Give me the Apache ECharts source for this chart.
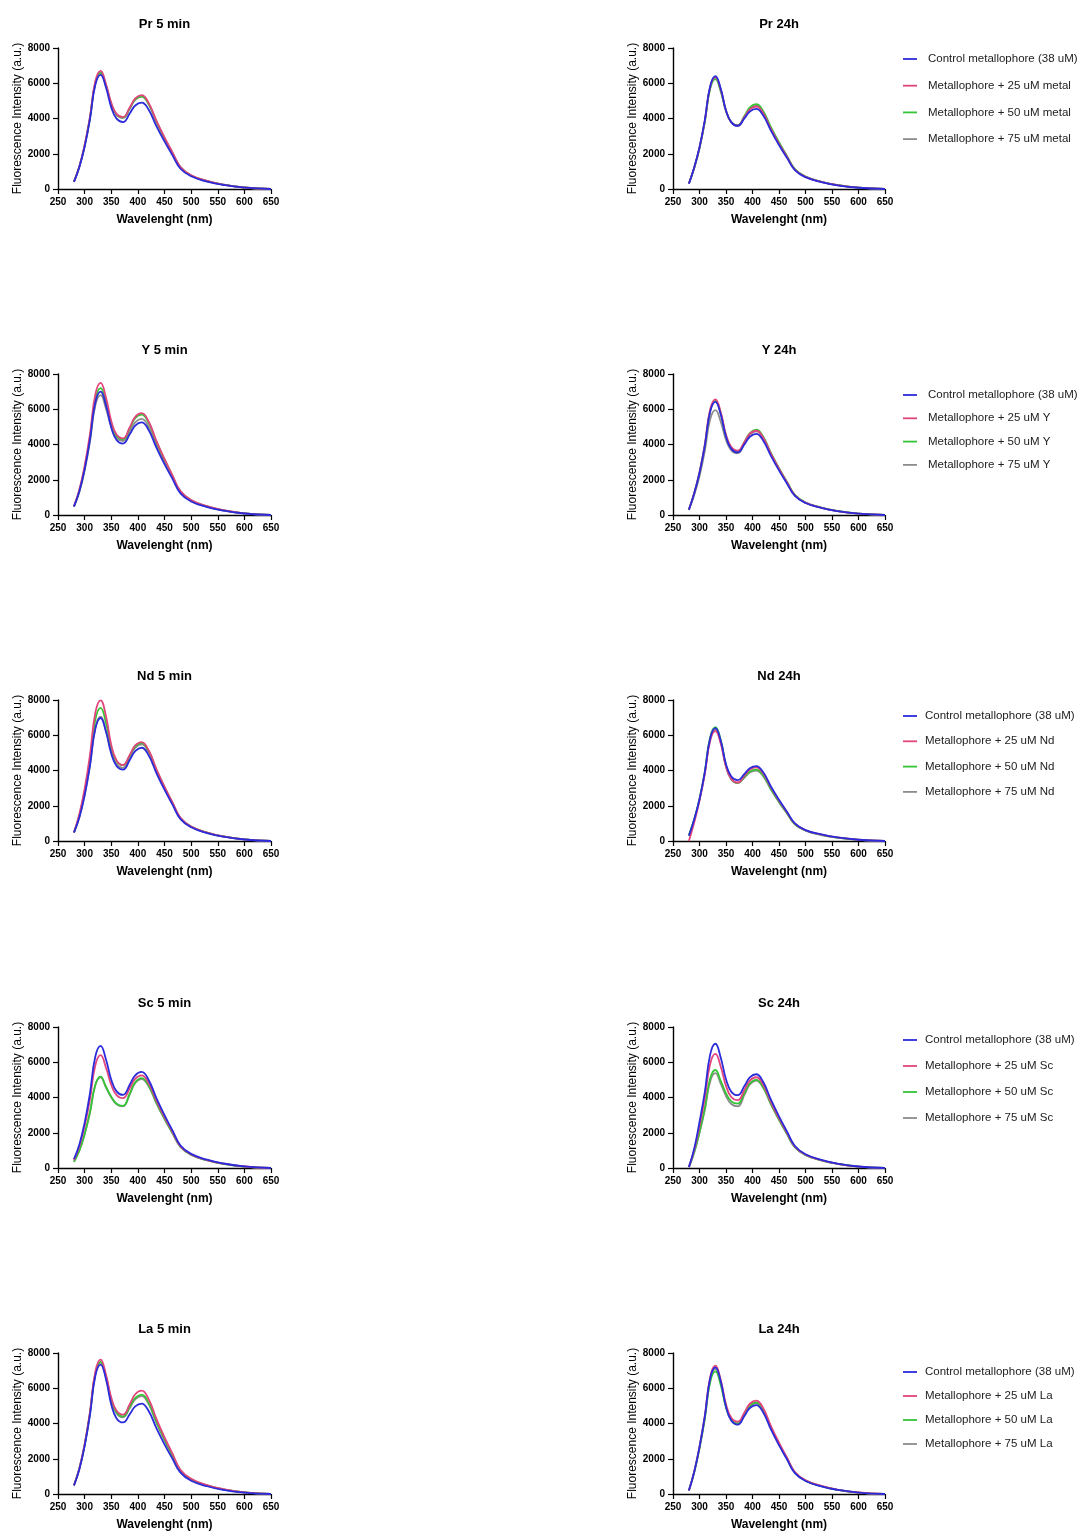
<!DOCTYPE html>
<html>
<head>
<meta charset="utf-8">
<script src="https://cdn.jsdelivr.net/npm/echarts@6/dist/echarts.min.js"></script>
<style>
  html, body { margin: 0; padding: 0; background: #ffffff; }
  #chart { width: 1080px; height: 1533px; }
</style>
</head>
<body>
<div id="chart"></div>
<script>
// Emission wavelengths (nm) shared by every spectrum
const wavelength = [280, 290, 300, 310, 320, 330, 340, 350, 360, 372, 385, 395, 407, 420, 435, 450, 465, 480, 500, 530, 560, 600, 650];

// Pr
const pr5_control = [400,1230,2400,3950,5900,6480,5770,4630,3990,3800,4300,4740,4900,4510,3550,2700,1910,1150,720,420,230,80,0];
const pr5_25 = [420,1270,2480,4090,6100,6700,5960,4890,4260,4080,4640,5140,5330,4900,3860,2930,2080,1250,780,460,250,85,0];
const pr5_50 = [410,1260,2450,4040,6020,6620,5890,4850,4230,4050,4600,5080,5260,4840,3810,2890,2050,1240,770,450,250,84,0];
const pr5_75 = [400,1250,2430,4010,5990,6580,5860,4820,4210,4030,4570,5060,5240,4820,3800,2880,2040,1230,770,450,250,84,0];
const pr24_control = [300,1220,2370,3900,5820,6400,5700,4450,3780,3580,4020,4400,4550,4190,3300,2500,1770,1070,670,390,210,70,0];
const pr24_25 = [320,1210,2350,3870,5780,6350,5650,4450,3790,3600,4090,4520,4680,4310,3390,2570,1830,1100,690,400,220,75,0];
const pr24_50 = [320,1180,2310,3800,5670,6230,5540,4430,3800,3620,4160,4630,4810,4430,3490,2650,1880,1130,710,410,230,77,0];
const pr24_75 = [310,1200,2330,3840,5730,6300,5610,4440,3790,3600,4110,4560,4730,4350,3430,2600,1840,1110,700,410,220,76,0];

// Y
const y5_control = [480,1330,2590,4270,6370,7000,6230,4960,4260,4050,4590,5070,5250,4830,3810,2890,2050,1230,770,450,250,84,0];
const y5_25 = [500,1430,2780,4580,6830,7500,6680,5330,4570,4350,4990,5570,5780,5320,4190,3180,2250,1360,850,500,270,90,0];
const y5_50 = [490,1370,2660,4390,6550,7200,6410,5200,4500,4300,4930,5490,5700,5240,4130,3140,2220,1340,840,490,270,90,0];
const y5_75 = [470,1290,2520,4150,6190,6800,6050,5010,4380,4200,4760,5260,5450,5010,3950,3000,2130,1280,800,470,260,87,0];
const y24_control = [300,1220,2380,3920,5840,6420,5710,4440,3750,3550,4020,4440,4600,4230,3340,2530,1790,1080,680,400,220,74,0];
const y24_25 = [320,1250,2430,4000,5970,6560,5840,4550,3850,3650,4160,4610,4780,4400,3470,2630,1860,1120,700,410,220,76,0];
const y24_50 = [310,1230,2400,3950,5900,6480,5770,4490,3800,3600,4160,4650,4840,4450,3510,2660,1890,1140,710,420,230,77,0];
const y24_75 = [290,1130,2200,3630,5410,5950,5300,4260,3670,3500,4060,4560,4750,4370,3440,2610,1850,1120,700,410,220,76,0];

// Nd
const nd5_control = [480,1330,2580,4260,6350,6980,6210,4960,4260,4050,4610,5100,5290,4870,3840,2910,2060,1240,780,450,250,85,0];
const nd5_25 = [500,1520,2950,4870,7260,7980,7100,5450,4570,4310,4900,5420,5610,5160,4070,3090,2190,1320,820,480,260,90,0];
const nd5_50 = [490,1430,2790,4610,6870,7550,6720,5310,4530,4300,4860,5360,5550,5110,4020,3050,2160,1300,820,480,260,89,0];
const nd5_75 = [480,1340,2610,4300,6420,7050,6270,5050,4350,4150,4750,5280,5480,5040,3970,3010,2140,1290,810,470,260,88,0];
const nd24_control = [300,1220,2370,3900,5820,6400,5700,4360,3660,3450,3810,4130,4250,3910,3080,2340,1660,1000,620,370,200,70,0];
const nd24_25 = [0,1050,2300,3800,5670,6230,5540,4220,3520,3320,3710,4050,4180,3850,3030,2300,1630,980,610,360,200,70,0];
const nd24_50 = [320,1230,2390,3940,5880,6460,5750,4280,3520,3300,3640,3940,4050,3730,2940,2230,1580,950,600,350,190,65,0];
const nd24_75 = [320,1200,2340,3860,5750,6320,5620,4220,3490,3280,3600,3890,4000,3680,2900,2200,1560,940,590,340,190,64,0];

// Sc
const sc5_control = [500,1320,2560,4230,6310,6930,6170,5010,4350,4150,4740,5260,5450,5010,3950,3000,2130,1280,800,470,260,87,0];
const sc5_25 = [450,1220,2370,3900,5820,6400,5700,4720,4130,3960,4540,5060,5250,4830,3810,2890,2050,1230,770,450,250,84,0];
const sc5_50 = [350,980,1920,3160,4710,5180,4610,4040,3650,3530,4240,4860,5100,4690,3700,2800,1990,1200,750,440,240,82,0];
const sc5_75 = [350,980,1910,3140,4690,5150,4580,4010,3620,3500,4200,4820,5050,4650,3660,2780,1970,1190,740,430,240,81,0];
const sc24_control = [50,1100,2610,4300,6420,7050,6270,5040,4330,4130,4670,5140,5320,4890,3860,2930,2070,1250,780,460,250,85,0];
const sc24_25 = [50,1020,2390,3950,5890,6470,5760,4660,4030,3850,4440,4960,5150,4740,3730,2830,2010,1210,760,440,240,82,0];
const sc24_50 = [50,900,2060,3390,5060,5560,4950,4240,3780,3650,4260,4800,5000,4600,3630,2750,1950,1180,740,430,240,80,0];
const sc24_75 = [50,880,1990,3280,4900,5380,4790,4080,3630,3500,4160,4740,4960,4560,3600,2730,1930,1170,730,430,230,79,0];

// La
const la5_control = [480,1390,2720,4480,6680,7340,6530,5080,4290,4060,4540,4970,5130,4720,3720,2820,2000,1210,750,440,240,82,0];
const la5_25 = [500,1450,2820,4650,6930,7620,6780,5470,4720,4500,5110,5660,5860,5390,4250,3220,2290,1380,860,500,280,94,0];
const la5_50 = [490,1430,2780,4580,6830,7500,6680,5360,4620,4400,4960,5450,5640,5190,4090,3100,2200,1330,830,485,265,90,0];
const la5_75 = [490,1420,2760,4540,6780,7450,6630,5310,4570,4350,4890,5370,5550,5110,4020,3050,2160,1300,820,480,260,89,0];
const la24_control = [200,1250,2660,4390,6540,7190,6400,4950,4170,3940,4440,4880,5040,4640,3650,2770,1970,1180,740,430,240,81,0];
const la24_25 = [200,1270,2690,4440,6620,7280,6480,5090,4320,4100,4640,5120,5300,4880,3840,2920,2070,1250,780,460,250,85,0];
const la24_50 = [200,1220,2580,4250,6330,6960,6190,4920,4210,4000,4540,5020,5200,4780,3770,2860,2030,1220,760,450,240,83,0];
const la24_75 = [200,1240,2630,4330,6460,7100,6320,4930,4170,3950,4490,4970,5150,4740,3730,2830,2010,1210,760,440,240,82,0];

// Panel titles, read row by row (5 min left, 24h right)
const panelTitles = ['Pr 5 min', 'Pr 24h', 'Y 5 min', 'Y 24h', 'Nd 5 min', 'Nd 24h', 'Sc 5 min', 'Sc 24h', 'La 5 min', 'La 24h'];
// Spectra per panel: [control, +25 uM, +50 uM, +75 uM]
const panelSpectra = [
  [pr5_control, pr5_25, pr5_50, pr5_75], [pr24_control, pr24_25, pr24_50, pr24_75],
  [y5_control, y5_25, y5_50, y5_75], [y24_control, y24_25, y24_50, y24_75],
  [nd5_control, nd5_25, nd5_50, nd5_75], [nd24_control, nd24_25, nd24_50, nd24_75],
  [sc5_control, sc5_25, sc5_50, sc5_75], [sc24_control, sc24_25, sc24_50, sc24_75],
  [la5_control, la5_25, la5_50, la5_75], [la24_control, la24_25, la24_50, la24_75]
];
// Metal named in each row's legend
const legendMetal = ['metal', 'Y', 'Nd', 'Sc', 'La'];
const concentrations = [25, 50, 75];

const xTicks = { min: 250, max: 650, interval: 50 };
const yTicks = { min: 0, max: 8000, interval: 2000 };

const lineColors = ['#2b2bdb', '#e2457c', '#35c435', '#8c8c8c'];

// Layout
const FONT = 'Arial, "Liberation Sans", Helvetica, sans-serif';
const colLeft = [58, 673];
const colWidth = [213, 212];
const rowTop = [48, 374, 700, 1027, 1353];
const plotHeight = 141;
const legendTop = [48, 384, 705, 1029, 1361];
const legendGap = [14.7, 11.3, 13.3, 14, 12];
const legendTextPad = [6, 6, 3, 3, 3];
// thin horizontal stroke used as the legend key
const legendLineIcon = 'path://M0,0 M0,4.1 L14,4.1 L14,5.9 L0,5.9 Z M14,10';

function seriesNamesFor(row) {
  const m = legendMetal[row];
  return ['Control metallophore (38 uM)'].concat(concentrations.map(c => 'Metallophore + ' + c + ' uM ' + m));
}

const grids = [], xAxes = [], yAxes = [], series = [], legends = [], graphics = [];

panelTitles.forEach((title, i) => {
  const row = Math.floor(i / 2), col = i % 2;
  const left = colLeft[col], top = rowTop[row], width = colWidth[col];
  grids.push({ left: left, top: top, width: width, height: plotHeight, containLabel: false });

  const axisCommon = {
    gridIndex: i,
    type: 'value',
    axisLine: { show: true, lineStyle: { color: '#000', width: 1.4 } },
    axisTick: { show: true, length: 5, lineStyle: { color: '#000', width: 1.2 } },
    axisLabel: { color: '#000', fontWeight: 'bold', fontSize: 10, fontFamily: FONT, margin: 8,
                 formatter: v => String(v) },
    splitLine: { show: false },
    nameLocation: 'middle'
  };
  xAxes.push(Object.assign({}, axisCommon, {
    min: xTicks.min, max: xTicks.max, interval: xTicks.interval,
    name: 'Wavelenght (nm)', nameGap: 25,
    nameTextStyle: { color: '#000', fontWeight: 'bold', fontSize: 12, fontFamily: FONT }
  }));
  yAxes.push(Object.assign({}, axisCommon, {
    min: yTicks.min, max: yTicks.max, interval: yTicks.interval,
    name: 'Fluorescence Intensity (a.u.)', nameGap: 32,
    nameTextStyle: { color: '#000', fontWeight: 'normal', fontSize: 12, fontFamily: FONT }
  }));

  graphics.push({
    type: 'text',
    x: left + width / 2,
    y: top - 23.5,
    style: {
      text: title, fill: '#000', fontSize: 13, fontWeight: 'bold', fontFamily: FONT,
      align: 'center', verticalAlign: 'middle'
    }
  });

  const names = seriesNamesFor(row);
  const spectra = panelSpectra[i];
  // drawn from highest concentration to control so the control trace sits on top
  [3, 2, 1, 0].forEach(k => {
    series.push({
      type: 'line',
      name: names[k],
      xAxisIndex: i,
      yAxisIndex: i,
      data: wavelength.map((w, j) => [w, spectra[k][j]]),
      smooth: 0.45,
      symbol: 'none',
      showSymbol: false,
      lineStyle: { color: lineColors[k], width: 1.8 },
      itemStyle: { color: lineColors[k] },
      z: 2 + (3 - k),
      animation: false
    });
  });

  if (col === 1) {
    legends.push({
      orient: 'vertical',
      left: 898,
      top: legendTop[row],
      itemGap: legendGap[row],
      itemWidth: 14,
      itemHeight: 10,
      icon: legendLineIcon,
      data: names,
      selectedMode: false,
      textStyle: { color: '#222', fontSize: 11.5, fontFamily: FONT, padding: [0, 0, 0, legendTextPad[row]] }
    });
  }
});

const chart = echarts.init(document.getElementById('chart'), null, { renderer: 'canvas' });
chart.setOption({
  backgroundColor: '#ffffff',
  animation: false,
  grid: grids,
  xAxis: xAxes,
  yAxis: yAxes,
  legend: legends,
  graphic: graphics,
  series: series
});
</script>
</body>
</html>
